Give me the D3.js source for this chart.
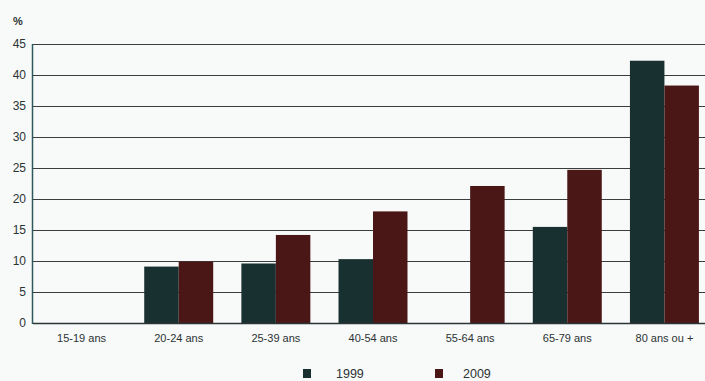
<!DOCTYPE html>
<html>
<head>
<meta charset="utf-8">
<script src="https://cdn.jsdelivr.net/npm/d3@7"></script>
<style>
  html, body { margin: 0; padding: 0; background: #f8f9f9; }
  svg { display: block; }
  text { font-family: "Liberation Sans", Arial, sans-serif; }
</style>
</head>
<body>
<svg id="chart" width="705" height="381"></svg>
<script>
// Age groups and the share (%) for each year; null = no bar
const categories = ["15-19 ans", "20-24 ans", "25-39 ans", "40-54 ans", "55-64 ans", "65-79 ans", "80 ans ou +"];
const years = ["1999", "2009"];
const values1999 = [null, 9.1, 9.6, 10.3, null, 15.5, 42.3];
const values2009 = [null, 9.9, 14.2, 18.0, 22.1, 24.7, 38.3];
const yTicks = [0, 5, 10, 15, 20, 25, 30, 35, 40, 45];
const colors = ["#18302f", "#4b1616"];

const svg = d3.select("#chart");
const W = 705, H = 381;
const margin = { left: 33, right: -8, top: 44, bottom: 58 };

const x = d3.scaleBand()
  .domain(categories)
  .range([margin.left, W - margin.right])
  .paddingInner(0.29)
  .paddingOuter(0.145);

const xs = d3.scaleBand().domain(years).range([0, x.bandwidth()]);

const y = d3.scaleLinear()
  .domain([0, 45])
  .range([H - margin.bottom, margin.top]);

// Horizontal gridlines
svg.append("g")
  .selectAll("line")
  .data(yTicks)
  .join("line")
  .attr("x1", margin.left)
  .attr("x2", W)
  .attr("y1", d => Math.round(y(d)) + 0.5)
  .attr("y2", d => Math.round(y(d)) + 0.5)
  .attr("stroke", "#3a3d3d")
  .attr("stroke-width", 1.1);

// Y tick labels
svg.append("g")
  .selectAll("text")
  .data(yTicks)
  .join("text")
  .attr("x", 26)
  .attr("y", d => y(d) + 4)
  .attr("text-anchor", "end")
  .attr("font-size", 12)
  .attr("fill", "#2b3333")
  .text(d => d);

svg.append("text")
  .attr("x", 13)
  .attr("y", 25)
  .attr("font-size", 11)
  .attr("font-weight", "bold")
  .attr("fill", "#2b3333")
  .text("%");

// Bars
const rows = categories.map((c, i) => ({ cat: c, vals: [values1999[i], values2009[i]] }));
const groups = svg.append("g")
  .selectAll("g")
  .data(rows)
  .join("g")
  .attr("transform", d => `translate(${x(d.cat)},0)`);

groups.selectAll("rect")
  .data(d => d.vals.map((v, j) => ({ year: years[j], v, j })).filter(e => e.v != null))
  .join("rect")
  .attr("x", d => xs(d.year))
  .attr("width", xs.bandwidth())
  .attr("y", d => y(d.v))
  .attr("height", d => y(0) - y(d.v))
  .attr("fill", d => colors[d.j]);

// Axes lines
svg.append("line")
  .attr("x1", margin.left).attr("x2", W)
  .attr("y1", y(0) + 0.5).attr("y2", y(0) + 0.5)
  .attr("stroke", "#2a3434").attr("stroke-width", 1.5);
svg.append("line")
  .attr("x1", margin.left - 0.5).attr("x2", margin.left - 0.5)
  .attr("y1", y(45)).attr("y2", y(0) + 1)
  .attr("stroke", "#2d5a5c").attr("stroke-width", 1.5);

// Category labels
svg.append("g")
  .selectAll("text")
  .data(categories)
  .join("text")
  .attr("x", d => x(d) + x.bandwidth() / 2)
  .attr("y", 342)
  .attr("text-anchor", "middle")
  .attr("font-size", 11)
  .attr("fill", "#2b3333")
  .text(d => d);

// Legend
const legendX = [303, 435];
const legend = svg.append("g")
  .selectAll("g")
  .data(years)
  .join("g")
  .attr("transform", (d, i) => `translate(${legendX[i]},0)`);
legend.append("rect")
  .attr("x", 0).attr("y", 369)
  .attr("width", 8).attr("height", 9)
  .attr("fill", (d, i) => colors[i]);
legend.append("text")
  .attr("x", (d, i) => i === 0 ? 33 : 28)
  .attr("y", 378)
  .attr("font-size", 12.5)
  .attr("fill", "#2b3333")
  .text(d => d);
</script>
</body>
</html>
